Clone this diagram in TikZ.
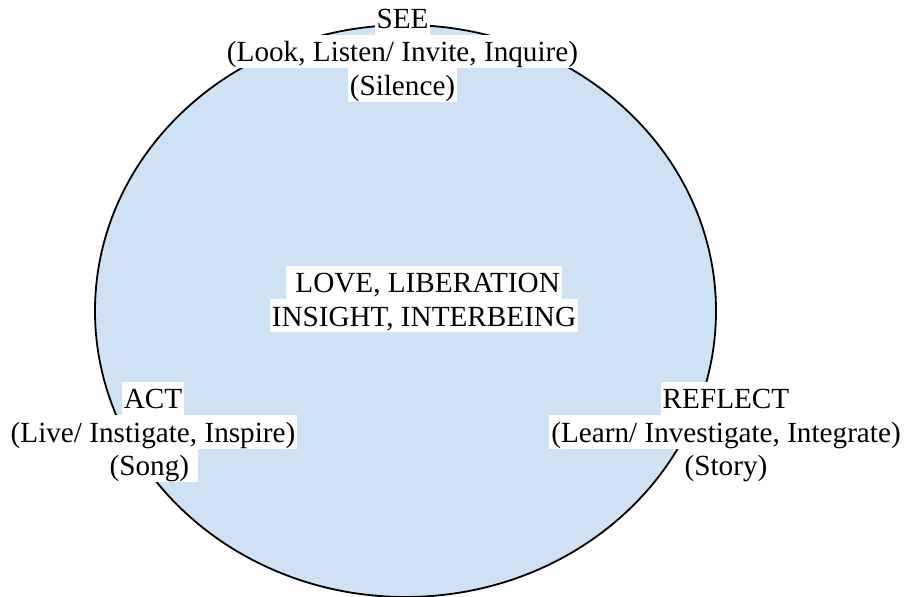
\documentclass[tikz,border=0pt]{standalone}
\usepackage{fontspec}
\setmainfont{Liberation Serif}
\usepackage{tikz}
\newcommand{\lineheight}{13.5pt}
\newcommand{\linedepth}{3.2pt}
\usetikzlibrary{positioning,shapes.geometric}
\definecolor{paleblue}{RGB}{207,226,243}
\tikzset{
  font=\fontsize{14.6}{16.7}\selectfont,
  node distance=0pt,
  disc/.style={draw,fill=paleblue,shape=ellipse,line width=0.9pt,minimum width=310.5pt,minimum height=286pt,inner sep=0},
  txt/.style={fill=white,shape=rectangle,inner xsep=1pt,inner ysep=0pt,outer sep=0pt,text height=\lineheight,text depth=\linedepth}
}

\begin{document}
\begin{tikzpicture}[x=0.5pt,y=-0.5pt]
    \useasboundingbox (0,0) rectangle (906,597);
    \node (wheel) [disc] at (405.5,311) {};

    \node (see) [txt,anchor=base] at (402.5,28.5) {SEE};
    \node (see1) [txt,below=of see] {(Look, Listen/ Invite, Inquire)};
    \node (see2) [txt,below=of see1] {(Silence)};

    \node (act) [txt,anchor=base] at (153,409) {ACT};
    \node (act1) [txt,below=of act] {(Live/ Instigate, Inspire)};
    \node (act2) [txt,below=of act1] {(Song)~~};

    \node (reflect) [txt,anchor=base] at (726,409) {REFLECT};
    \node (reflect1) [txt,below=of reflect] {(Learn/ Investigate, Integrate)};
    \node (reflect2) [txt,below=of reflect1] {(Story)};

    \node (love) [txt,anchor=base] at (424,292.7) {~LOVE, LIBERATION};
    \node (insight) [txt,below=of love] {INSIGHT, INTERBEING};
\end{tikzpicture}
\end{document}
